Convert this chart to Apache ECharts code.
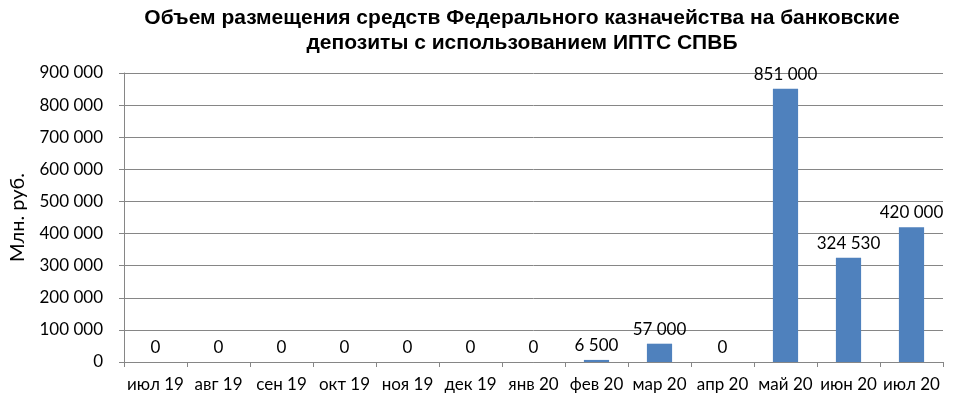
<!DOCTYPE html>
<html>
<head>
<meta charset="utf-8">
<script src="https://cdn.jsdelivr.net/npm/echarts@6/dist/echarts.min.js"></script>
<style>
  html, body { margin: 0; padding: 0; background: #fff; }
  #chart { width: 975px; height: 408px; }
</style>
</head>
<body>
<div id="chart"></div>
<script>
// Monthly placements (mln rub.)
const months = ['июл 19', 'авг 19', 'сен 19', 'окт 19', 'ноя 19', 'дек 19', 'янв 20',
                'фев 20', 'мар 20', 'апр 20', 'май 20', 'июн 20', 'июл 20'];
const volumes = [0, 0, 0, 0, 0, 0, 0, 6500, 57000, 0, 851000, 324530, 420000];
const yTicks = { min: 0, max: 900000, step: 100000 };
const titleLines = [
  'Объем размещения средств Федерального казначейства на банковские',
  'депозиты с использованием ИПТС СПВБ'
];

const fmt = v => String(v).replace(/\B(?=(\d{3})+(?!\d))/g, ' ');
const labelFont = 'Lato, "Open Sans", sans-serif';
const gridGray = '#868686';

const chart = echarts.init(document.getElementById('chart'));
chart.setOption({
  animation: false,
  backgroundColor: '#ffffff',
  graphic: [{
    type: 'text',
    x: 522,
    y: 6,
    style: {
      text: titleLines.join('\n'),
      textAlign: 'center',
      textVerticalAlign: 'top',
      fontFamily: '"Liberation Sans", Arial, sans-serif',
      fontWeight: 'bold',
      fontSize: 21,
      lineHeight: 25,
      fill: '#000'
    }
  }],
  grid: { left: 123, right: 32, top: 73, bottom: 46, containLabel: false },
  xAxis: {
    type: 'category',
    data: months,
    axisLine: { lineStyle: { color: gridGray, width: 1 } },
    axisTick: { show: true, alignWithLabel: false, interval: 0, length: 5, lineStyle: { color: gridGray } },
    axisLabel: { interval: 0, margin: 14, fontFamily: labelFont, fontSize: 17, color: '#000' }
  },
  yAxis: {
    type: 'value',
    min: yTicks.min,
    max: yTicks.max,
    interval: yTicks.step,
    name: 'Млн. руб.',
    nameLocation: 'middle',
    nameGap: 96,
    nameRotate: 90,
    nameTextStyle: { fontFamily: labelFont, fontSize: 20, color: '#000' },
    axisLine: { show: true, lineStyle: { color: gridGray, width: 1 } },
    axisTick: { show: true, length: 5, lineStyle: { color: gridGray } },
    axisLabel: { margin: 21, fontFamily: labelFont, fontSize: 17, color: '#000', formatter: fmt },
    splitLine: { lineStyle: { color: gridGray, width: 1 } }
  },
  series: [{
    type: 'bar',
    data: volumes,
    barWidth: '40%',
    itemStyle: { color: '#4F81BD' },
    label: {
      show: true,
      position: 'top',
      distance: 6,
      fontFamily: labelFont,
      fontSize: 17,
      color: '#000',
      formatter: p => fmt(p.value)
    }
  }]
});
</script>
</body>
</html>
